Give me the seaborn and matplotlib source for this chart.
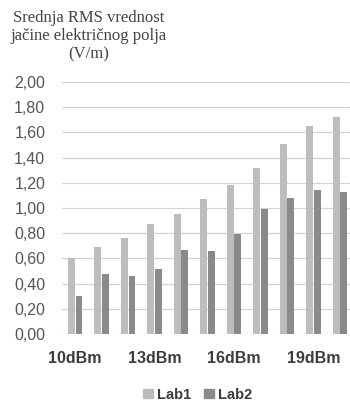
import matplotlib
matplotlib.use("Agg")
import matplotlib.pyplot as plt
from matplotlib.ticker import FuncFormatter
import seaborn as sns
import pandas as pd

# Power levels and mean RMS electric field strength (V/m) per lab
levels = ["10dBm", "11dBm", "12dBm", "13dBm", "14dBm", "15dBm",
          "16dBm", "17dBm", "18dBm", "19dBm", "20dBm"]
lab1 = [0.60, 0.69, 0.76, 0.87, 0.95, 1.07, 1.18, 1.32, 1.51, 1.65, 1.72]
lab2 = [0.30, 0.48, 0.46, 0.52, 0.67, 0.66, 0.79, 0.99, 1.08, 1.14, 1.13]
shown_ticks = ["10dBm", "13dBm", "16dBm", "19dBm"]
series = ["Lab1", "Lab2"]
palette = {"Lab1": "#bdbdbd", "Lab2": "#8a8a8a"}

df = pd.DataFrame({
    "level": levels * 2,
    "value": lab1 + lab2,
    "lab": [series[0]] * len(levels) + [series[1]] * len(levels),
})

sns.set_theme(style="white")
plt.rcParams["font.family"] = ["Liberation Sans", "DejaVu Sans"]

fig = plt.figure(figsize=(3.5, 4.01), dpi=100)
ax = fig.add_axes([0.177, 0.167, 0.832, 0.6285])

sns.barplot(data=df, x="level", y="value", hue="lab", order=levels,
            hue_order=series, palette=palette, width=0.58, gap=0.1,
            edgecolor="none", ax=ax, legend=False)

ax.set_xlim(-0.5, 10.5)
ax.set_ylim(0, 2.0)
ax.set_yticks([i * 0.2 for i in range(11)])
ax.yaxis.set_major_formatter(FuncFormatter(lambda v, _: f"{v:.2f}".replace(".", ",")))
ax.grid(axis="y", color="#bcbcbc", linewidth=0.9, linestyle=(0, (1, 0.6)))
ax.set_axisbelow(True)
for s in ax.spines.values():
    s.set_visible(False)

ax.set_xticks(range(len(levels)))
ax.set_xticklabels([lv if lv in shown_ticks else "" for lv in levels],
                   fontsize=11.5, fontweight="bold", color="#3c3c3c")
ax.tick_params(axis="x", length=0, pad=12)
ax.tick_params(axis="y", length=0, pad=12, labelsize=11.5, labelcolor="#555555")
ax.set_xlabel("")
ax.set_ylabel("")

fig.text(0.254, 0.975, "Srednja RMS vrednost\njačine električnog polja\n(V/m)",
         ha="center", va="top", fontsize=12, color="#444444",
         family=["Liberation Serif", "DejaVu Serif"], linespacing=1.2)

handles = [plt.Rectangle((0, 0), 1, 1, color=palette[s]) for s in series]
leg = fig.legend(handles, series, loc="center", bbox_to_anchor=(0.565, 0.016),
                 ncol=2, frameon=False, handlelength=0.65, handleheight=0.65,
                 handletextpad=0.3, columnspacing=0.9,
                 prop={"size": 10.5, "weight": "bold"})
for t in leg.get_texts():
    t.set_color("#3c3c3c")

fig.savefig("out.png", dpi=100)
